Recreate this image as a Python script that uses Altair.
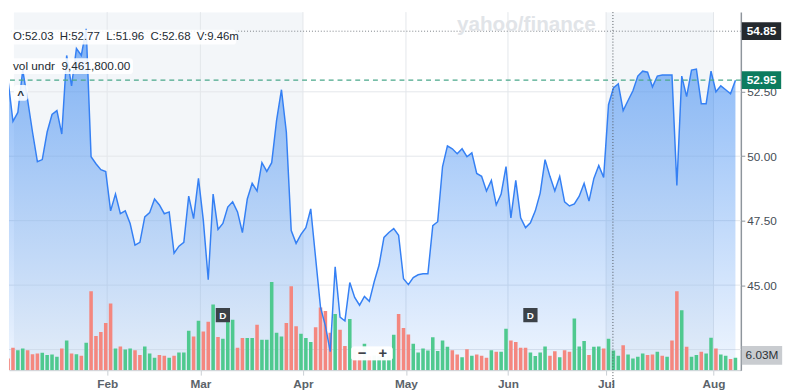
import altair as alt
import pandas as pd

# ---------------- data ----------------
close = [
    52.92, 51.35, 51.70, 53.34, 52.19, 50.94, 49.79, 49.87, 50.94, 51.62,
    51.77, 50.86, 53.91, 52.73, 54.18, 53.91, 54.94, 49.98, 49.71, 49.48,
    49.41, 47.88, 48.53, 47.77, 47.88, 47.39, 46.55, 46.66, 47.65, 47.81,
    48.34, 48.11, 47.77, 47.84, 46.24, 46.51, 46.66, 48.45, 47.58, 49.14,
    47.50, 45.21, 48.53, 47.16, 47.39, 48.03, 48.23, 47.84, 47.04, 48.34,
    48.95, 48.65, 49.75, 49.41, 49.75, 51.39, 52.58, 50.94, 47.12, 46.62,
    46.97, 47.23, 47.96, 46.05, 44.14, 43.42, 42.42, 45.71, 43.76, 43.61,
    45.10, 44.52, 44.22, 44.56, 44.37, 45.13, 45.78, 46.85, 47.04, 47.19,
    46.93, 45.25, 45.02, 45.29, 45.40, 45.44, 45.44, 47.31, 47.46, 49.60,
    50.40, 50.29, 50.10, 50.29, 49.98, 50.13, 49.33, 49.22, 48.65, 49.06,
    48.11, 48.53, 49.60, 47.61, 49.06, 47.61, 47.23, 47.42, 47.88, 48.57,
    49.87, 49.22, 48.65, 49.22, 48.23, 48.07, 48.15, 48.45, 48.95, 48.26,
    49.14, 49.64, 49.18, 52.00, 52.65, 52.81, 51.77, 52.16, 52.54, 53.11,
    53.30, 53.26, 52.69, 53.11, 53.15, 53.15, 53.15, 48.87, 53.11, 52.31,
    53.34, 53.38, 52.04, 52.04, 53.30, 52.50, 52.73, 52.58, 52.42, 52.95,
]

volume_m = [
    5.7, 10.8, 9.6, 10.5, 9.6, 7.7, 8.1, 8.4, 7.3, 7.6,
    6.5, 10.5, 14.4, 8.1, 7.7, 7.0, 13.2, 38.1, 16.5, 18.4,
    22.8, 32.2, 10.5, 11.5, 10.0, 10.5, 9.6, 7.3, 11.5, 8.1,
    6.0, 7.3, 7.0, 6.0, 7.0, 8.6, 8.6, 19.0, 16.3, 23.9,
    18.7, 23.4, 31.8, 16.0, 15.2, 24.4, 24.4, 10.8, 15.5, 15.5,
    15.5, 21.9, 14.7, 14.7, 42.6, 18.1, 16.3, 22.8, 40.5, 21.2,
    17.6, 15.5, 13.6, 20.8, 30.3, 28.6, 18.1, 27.1, 19.6, 11.7,
    24.7, 10.5, 9.5, 12.8, 6.7, 7.1, 6.7, 6.7, 7.1, 17.1,
    27.1, 20.4, 17.3, 12.8, 8.6, 10.5, 9.5, 15.9, 9.3, 14.4,
    11.3, 9.6, 7.6, 6.2, 10.1, 7.0, 7.6, 7.0, 6.0, 9.6,
    8.9, 8.9, 20.0, 14.4, 13.6, 10.8, 10.8, 8.6, 6.8, 8.6,
    11.5, 7.0, 9.2, 6.2, 9.6, 8.9, 25.0, 11.5, 14.1, 7.3,
    11.3, 11.5, 10.5, 15.2, 9.46, 7.0, 12.0, 7.6, 5.7, 6.5,
    8.1, 7.3, 7.6, 8.9, 7.0, 6.5, 14.4, 38.1, 29.0, 11.3,
    6.5, 7.3, 8.9, 8.1, 15.7, 10.5, 7.6, 7.0, 5.4, 6.03,
]

# per-bar direction, u = up (green), d = down (red), ten bars per row
dir_rows = [
    "dduuddduuu", "ududududdd", "dduduudduu", "udduduuudu",
    "dduduuuddu", "uduuuuuddd", "uuuddddudd", "udduduuuuu",
    "ddduuuuuuu", "uddududddu", "duudddduuu", "uddudduuud",
    "uuduuuduuu", "uddududdud", "uuduuduudu",
]
direction = list("".join(dir_rows))

month_labels = ["Feb", "Mar", "Apr", "May", "Jun", "Jul", "Aug"]
month_pos = [20.3, 39.4, 60.4, 81.5, 102.4, 122.5, 144.5]
price_ticks = [42.5, 45.0, 47.5, 50.0, 52.5]
shade_start = [1.19, 122.5]
shade_end = [60.4, 144.5]
last_price = [52.95]
cross_price = [54.85]
cross_index = [123.9]
dividend_index = [44, 107]
last_volume_label = ["6.03M"]
NB = "\u00a0"
ohlc_text = [f"O:52.03{NB} H:52.77{NB} L:51.96{NB} C:52.68{NB} V:9.46m"]
vol_text = [f"vol undr{NB} 9,461,800.00"]
zoom_signs = ["−", "+"]

# ---------------- chart ----------------
W, H = 744, 364
X_DOMAIN = [1.19, 149.1]
Y_DOMAIN = [41.70, 55.59]
V_DOMAIN = [0, 173]

GREEN, RED = "#4fc98f", "#f4877f"

df = pd.DataFrame({
    "i": list(range(len(close))),
    "price": close,
    "vol": volume_m,
    "dir": direction[:len(close)],
})

XS = alt.Scale(domain=X_DOMAIN, nice=False, zero=False)
YS = alt.Scale(domain=Y_DOMAIN, nice=False, zero=False)
VS = alt.Scale(domain=V_DOMAIN, nice=False)

label_expr = (
    "[" + ",".join(f"'{m}'" for m in month_labels) + "]"
    + "[indexof([" + ",".join(str(p) for p in month_pos) + "], datum.value)]"
)
XAXIS = alt.Axis(
    values=month_pos, labelExpr=label_expr, title=None, grid=False,
    domainColor="#c9ced3", tickColor="#c9ced3", tickSize=5,
    labelFontSize=12, labelFontWeight="bold", labelColor="#5b636a",
    labelPadding=4, labelFlush=False,
)
YAXIS = alt.Axis(
    orient="right", values=price_ticks, format=".2f", title=None, grid=False,
    domainColor="#8e959c", domainWidth=1.5, tickColor="#8e959c", tickSize=4,
    labelFontSize=12, labelColor="#464e56", labelPadding=2,
)


def xq(field):
    return alt.X(field, scale=XS, axis=XAXIS)


def yq(field, axis=None):
    return alt.Y(field, scale=YS, axis=axis)


shade = alt.Chart(pd.DataFrame({"s": shade_start, "e": shade_end})).mark_rect(
    color="#f3f6f9", clip=True
).encode(x=xq("s:Q"), x2="e:Q", y=alt.value(0), y2=alt.value(H))

grid_h = alt.Chart(pd.DataFrame({"p": price_ticks})).mark_rule(
    color="#e3e7eb", strokeWidth=1
).encode(y=yq("p:Q"))

grid_v = alt.Chart(pd.DataFrame({"m": month_pos})).mark_rule(
    color="#e3e7eb", strokeWidth=1
).encode(x=xq("m:Q"))

gradient = alt.Gradient(
    gradient="linear",
    stops=[
        alt.GradientStop(color="rgba(30,120,240,0.55)", offset=0),
        alt.GradientStop(color="rgba(30,120,240,0.07)", offset=1),
    ],
    x1=1, x2=1, y1=0, y2=1,
)
area = alt.Chart(df).mark_area(color=gradient, clip=True).encode(
    x=xq("i:Q"), y=yq("price:Q", YAXIS), y2=alt.datum(Y_DOMAIN[0])
)

bars = alt.Chart(df).mark_bar(size=3.6, clip=True).encode(
    x=xq("i:Q"),
    y=alt.Y("vol:Q", scale=VS, axis=None),
    color=alt.Color("dir:N", scale=alt.Scale(domain=["u", "d"], range=[GREEN, RED]), legend=None),
)

line = alt.Chart(df).mark_line(color="#3580f4", strokeWidth=1.5, clip=True).encode(
    x=xq("i:Q"), y=yq("price:Q")
)

last_df = pd.DataFrame({"p": last_price, "t": [f"{v:.2f}" for v in last_price]})
last_rule = alt.Chart(last_df).mark_rule(color="#4aa88a", strokeDash=[5, 4], strokeWidth=1.2).encode(
    y=yq("p:Q")
)
last_box = alt.Chart(last_df).mark_rule(color="#0d7c5f", strokeWidth=18).encode(
    y=yq("p:Q"), x=alt.value(745), x2=alt.value(785)
)
last_txt = alt.Chart(last_df).mark_text(color="white", fontSize=12, fontWeight="bold").encode(
    y=yq("p:Q"), x=alt.value(765), text="t:N"
)

cross_df = pd.DataFrame({"p": cross_price, "t": [f"{v:.2f}" for v in cross_price]})
cross_rule = alt.Chart(cross_df).mark_rule(color="#7a8086", strokeDash=[1, 2], strokeWidth=1).encode(
    y=yq("p:Q")
)
cross_box = alt.Chart(cross_df).mark_rule(color="#24292e", strokeWidth=18).encode(
    y=yq("p:Q"), x=alt.value(745), x2=alt.value(785)
)
cross_txt = alt.Chart(cross_df).mark_text(color="white", fontSize=12, fontWeight="bold").encode(
    y=yq("p:Q"), x=alt.value(765), text="t:N"
)
cross_v = alt.Chart(pd.DataFrame({"c": cross_index})).mark_rule(
    color="#50565c", strokeDash=[1, 2], strokeWidth=1
).encode(x=xq("c:Q"), y=alt.value(0), y2=alt.value(H + 20))

vol_df = pd.DataFrame({"t": last_volume_label})
vol_box = alt.Chart(vol_df).mark_rule(color="#c9ccd0", strokeWidth=19).encode(
    y=alt.value(349), x=alt.value(745), x2=alt.value(786)
)
vol_lbl = alt.Chart(vol_df).mark_text(color="#2c3238", fontSize=12).encode(
    y=alt.value(349), x=alt.value(765.5), text="t:N"
)

div_df = pd.DataFrame({"d": dividend_index, "t": ["D"] * len(dividend_index)})
div_mark = alt.Chart(div_df).mark_square(size=210, color="#3c4248", opacity=1, filled=True).encode(
    x=xq("d:Q"), y=alt.value(308)
)
div_txt = alt.Chart(div_df).mark_text(color="white", fontSize=10, fontWeight="bold").encode(
    x=xq("d:Q"), y=alt.value(308.5), text="t:N"
)

ohlc_box = alt.Chart(pd.DataFrame({"t": ohlc_text})).mark_rect(
    color="white", opacity=0.88, cornerRadius=3
).encode(x=alt.value(1), x2=alt.value(231), y=alt.value(18), y2=alt.value(33))
ohlc_txt = alt.Chart(pd.DataFrame({"t": ohlc_text})).mark_text(
    align="left", baseline="middle", fontSize=11.6, color="#232a31"
).encode(x=alt.value(4), y=alt.value(25.5), text="t:N")

vu_box = alt.Chart(pd.DataFrame({"t": vol_text})).mark_rect(
    color="white", opacity=0.88, cornerRadius=3
).encode(x=alt.value(1), x2=alt.value(126), y=alt.value(47), y2=alt.value(63))
vu_txt = alt.Chart(pd.DataFrame({"t": vol_text})).mark_text(
    align="left", baseline="middle", fontSize=12, color="#232a31"
).encode(x=alt.value(4), y=alt.value(55), text="t:N")

caret_box = alt.Chart(pd.DataFrame({"t": ["^"]})).mark_rect(
    color="white", opacity=0.88, cornerRadius=3
).encode(x=alt.value(5), x2=alt.value(19), y=alt.value(74), y2=alt.value(90))
caret_txt = alt.Chart(pd.DataFrame({"t": ["^"]})).mark_text(
    baseline="middle", fontSize=12, fontWeight="bold", color="#232a31"
).encode(x=alt.value(12), y=alt.value(84), text="t:N")

zoom_box = alt.Chart(pd.DataFrame({"t": zoom_signs})).mark_rect(
    color="white", opacity=0.8, cornerRadius=3
).encode(x=alt.value(348), x2=alt.value(390), y=alt.value(340), y2=alt.value(354))
zoom_minus = alt.Chart(pd.DataFrame({"t": zoom_signs[:1]})).mark_text(
    baseline="middle", fontSize=15, fontWeight="bold", color="#3c4248"
).encode(x=alt.value(359), y=alt.value(347), text="t:N")
zoom_plus = alt.Chart(pd.DataFrame({"t": zoom_signs[1:]})).mark_text(
    baseline="middle", fontSize=15, fontWeight="bold", color="#3c4248"
).encode(x=alt.value(380), y=alt.value(347), text="t:N")

watermark = alt.Chart(pd.DataFrame({"t": ["yahoo/finance"]})).mark_text(
    fontSize=21, fontWeight="bold", color="#e1e4e8"
).encode(x=alt.value(526), y=alt.value(13), text="t:N")

chart = alt.layer(
    shade, grid_h, grid_v, area, bars, line,
    last_rule, cross_rule, cross_v, watermark,
    ohlc_box, ohlc_txt, vu_box, vu_txt, caret_box, caret_txt,
    zoom_box, zoom_minus, zoom_plus, div_mark, div_txt,
    last_box, last_txt, cross_box, cross_txt, vol_box, vol_lbl,
).resolve_scale(y="independent").properties(
    width=W, height=H, padding=0, background="white"
).configure(font="Liberation Sans").configure_view(stroke=None)

chart.save("out.html", embed_options={"renderer": "svg", "actions": False})
